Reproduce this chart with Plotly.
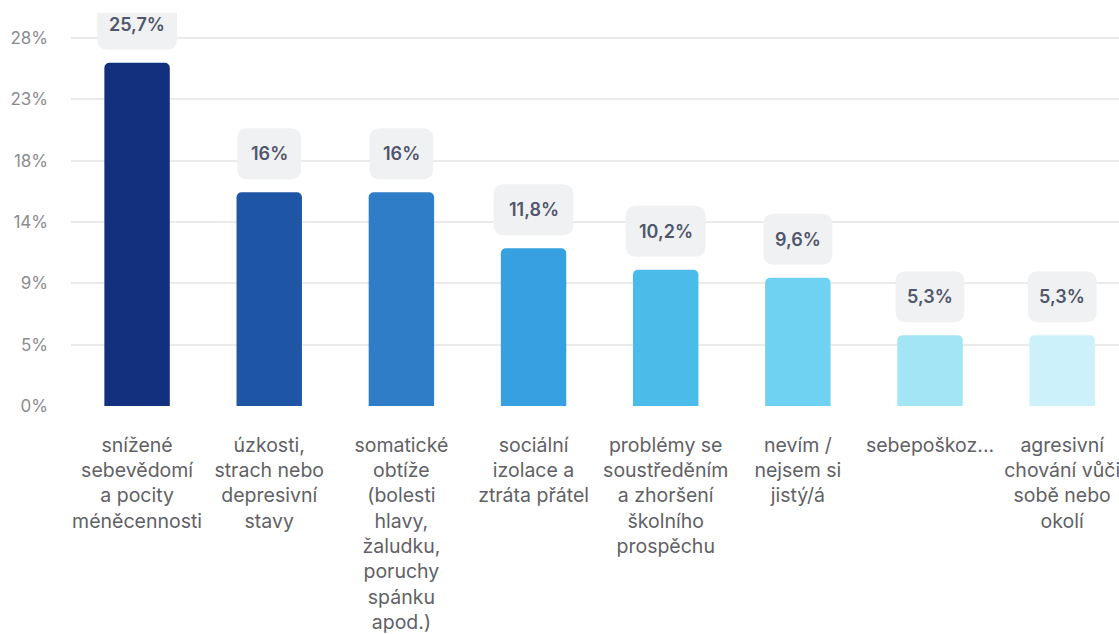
import plotly.graph_objects as go

categories = [
    "snížené<br>sebevědomí<br>a pocity<br>méněcennosti",
    "úzkosti,<br>strach nebo<br>depresivní<br>stavy",
    "somatické<br>obtíže<br>(bolesti<br>hlavy,<br>žaludku,<br>poruchy<br>spánku<br>apod.)",
    "sociální<br>izolace a<br>ztráta přátel",
    "problémy se<br>soustředěním<br>a zhoršení<br>školního<br>prospěchu",
    "nevím /<br>nejsem si<br>jistý/á",
    "sebepoškoz...",
    "agresivní<br>chování vůči<br>sobě nebo<br>okolí",
]
values = [25.7, 16.0, 16.0, 11.8, 10.2, 9.6, 5.3, 5.3]
value_labels = ["25,7%", "16%", "16%", "11,8%", "10,2%", "9,6%", "5,3%", "5,3%"]
bar_colors = ["#13307f", "#1f55a5", "#2f7cc7", "#36a0e0",
              "#4bbce9", "#70d2f2", "#a3e4f5", "#cdf1fa"]
tick_values = [0, 4.59, 9.18, 13.77, 18.36, 22.95, 27.54]
tick_labels = ["0%", "5%", "9%", "14%", "18%", "23%", "28%"]

FONT = "Inter"
x_pos = list(range(len(categories)))

fig = go.Figure(go.Bar(
    x=x_pos,
    y=values,
    marker=dict(color=bar_colors, line=dict(width=0)),
    width=0.495,
    hoverinfo="skip",
))


def text_width(s, size=18):
    w = 0.0
    for ch in s:
        if ch.isdigit():
            w += 0.61 * size
        elif ch == ",":
            w += 0.28 * size
        elif ch == "%":
            w += 0.88 * size
        else:
            w += 0.6 * size
    return w


def rounded_box(half_w, y0, y1, r):
    return (f"M {-half_w + r},{y0} L {half_w - r},{y0} Q {half_w},{y0} {half_w},{y0 + r} "
            f"L {half_w},{y1 - r} Q {half_w},{y1} {half_w - r},{y1} "
            f"L {-half_w + r},{y1} Q {-half_w},{y1} {-half_w},{y1 - r} "
            f"L {-half_w},{y0 + r} Q {-half_w},{y0} {-half_w + r},{y0} Z")


GAP = 13
BOX_H = 51
shapes = []
annotations = []
for i, (v, lab) in enumerate(zip(values, value_labels)):
    half = text_width(lab) / 2 + 13
    shapes.append(dict(
        type="path", xref="x", yref="y",
        xsizemode="pixel", ysizemode="pixel",
        xanchor=i, yanchor=v,
        path=rounded_box(half, GAP, GAP + BOX_H, 11),
        fillcolor="#f0f1f2", line=dict(width=0), layer="above",
    ))
    annotations.append(dict(
        x=i, y=v, xref="x", yref="y", text=lab, showarrow=False,
        yshift=GAP + BOX_H / 2, yanchor="middle",
        font=dict(family=FONT, size=18, color="#50566b", weight=600),
    ))

fig.update_layout(
    width=1119, height=634,
    margin=dict(l=71, r=0, t=13, b=228),
    paper_bgcolor="white", plot_bgcolor="white",
    showlegend=False,
    barcornerradius=5,
    shapes=shapes,
    annotations=annotations,
    font=dict(family=FONT),
    xaxis=dict(
        range=[-0.5, 7.43],
        tickmode="array", tickvals=x_pos, ticktext=categories,
        tickfont=dict(family=FONT, size=19.5, color="#5f6166"),
        showgrid=False, zeroline=False, showline=False,
        ticks="", ticklabelstandoff=25, ticklabeloverflow="allow",
    ),
    yaxis=dict(
        range=[0, 29.42],
        tickmode="array", tickvals=tick_values, ticktext=tick_labels,
        tickfont=dict(family=FONT, size=17, color="#8a8c90"),
        showgrid=True, gridcolor="#ebebeb", gridwidth=2,
        zeroline=False, showline=False,
        ticks="", ticklabelstandoff=22,
    ),
)

fig.write_html("out.html")
